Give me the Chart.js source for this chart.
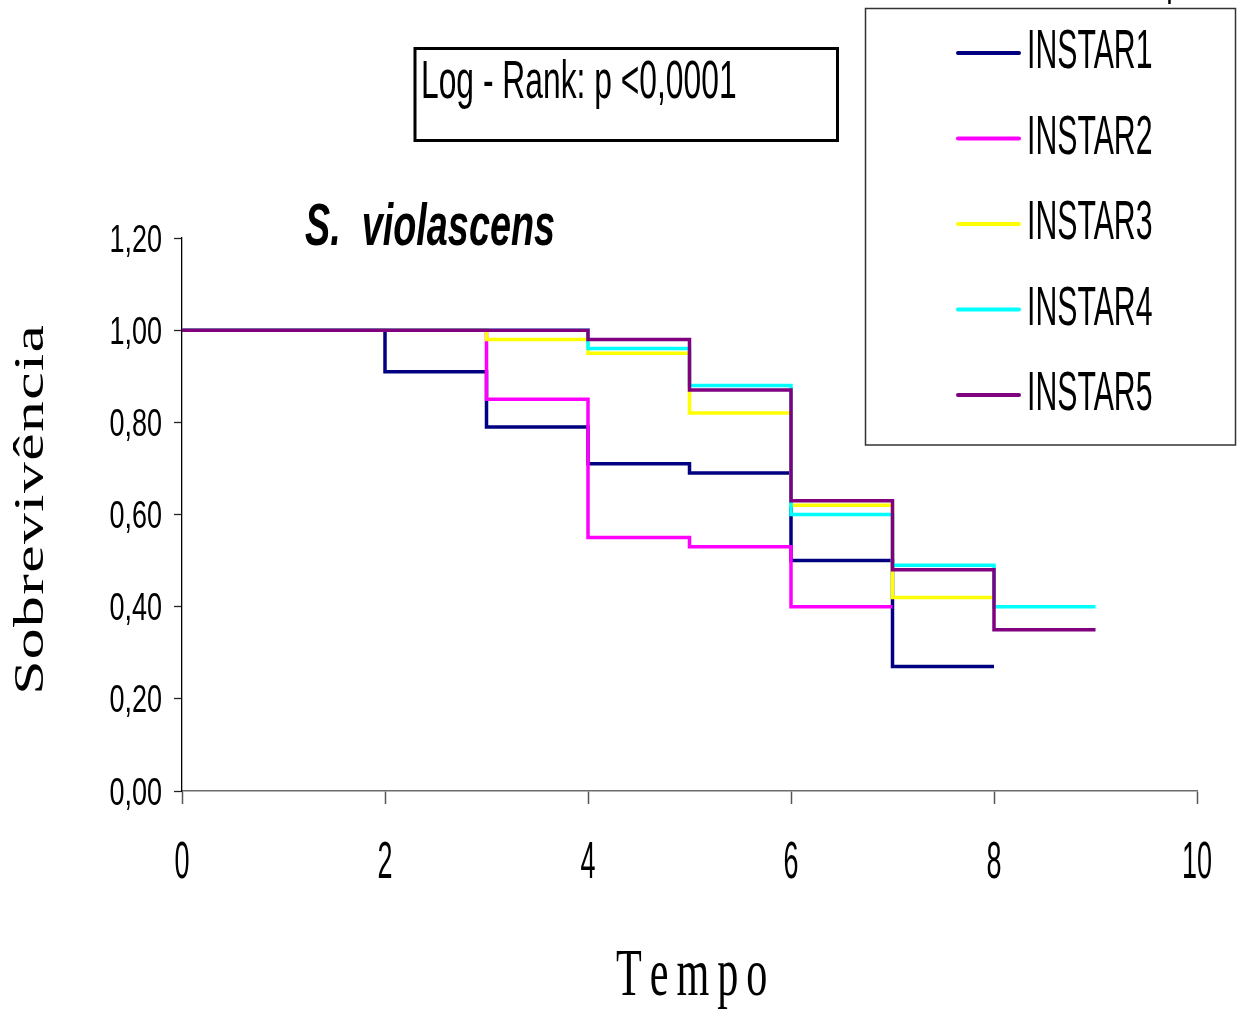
<!DOCTYPE html>
<html>
<head>
<meta charset="utf-8">
<script src="https://cdn.jsdelivr.net/npm/chart.js@4.4.1/dist/chart.umd.min.js"></script>
<style>
  html, body { margin: 0; padding: 0; background: #ffffff; }
  #wrap { width: 1240px; height: 1014px; }
</style>
</head>
<body>
<div id="wrap"><canvas id="c" width="1240" height="1014"></canvas></div>
<script>
// ---------------- DATA ----------------
const seriesNames = ['INSTAR1', 'INSTAR2', 'INSTAR3', 'INSTAR4', 'INSTAR5'];

const timesInstar1 = [0, 2, 3, 4, 5, 6, 7, 8];
const survInstar1  = [1.00, 0.91, 0.79, 0.71, 0.69, 0.50, 0.27, 0.27];

const timesInstar2 = [0, 3, 4, 5, 6, 7];
const survInstar2  = [1.00, 0.85, 0.55, 0.53, 0.40, 0.40];

const timesInstar3 = [0, 3, 4, 5, 6, 7, 8];
const survInstar3  = [1.00, 0.98, 0.95, 0.82, 0.62, 0.42, 0.42];

const timesInstar4 = [0, 4, 5, 6, 7, 8, 9];
const survInstar4  = [1.00, 0.96, 0.88, 0.60, 0.49, 0.40, 0.40];

const timesInstar5 = [0, 4, 5, 6, 7, 8, 9];
const survInstar5  = [1.00, 0.98, 0.87, 0.63, 0.48, 0.35, 0.35];

const xTickStep = 2;          // 0, 2, 4, 6, 8, 10
const yTickStep = 0.2;        // 0,00 ... 1,20
const xRange = [0, 10];
const yRange = [0, 1.2];

const titleText = 'S.  violascens';
const statText = 'Log - Rank: p <0,0001';
const xTitle = 'Tempo';
const yTitle = 'Sobrevivência';
const topFragment = ', p';

// ---------------- STYLES ----------------
const seriesColors = ['#000080', '#FF00FF', '#FFFF00', '#00FFFF', '#800080'];

const allTimes = [timesInstar1, timesInstar2, timesInstar3, timesInstar4, timesInstar5];
const allSurv  = [survInstar1, survInstar2, survInstar3, survInstar4, survInstar5];

const datasets = seriesNames.map((name, i) => ({
  label: name,
  data: allTimes[i].map((t, k) => ({ x: t, y: allSurv[i][k] })),
  borderColor: seriesColors[i],
  backgroundColor: seriesColors[i],
  borderWidth: 3.5,
  stepped: 'before',
  pointRadius: 0,
  pointHoverRadius: 0,
  fill: false,
  borderCapStyle: 'butt',
  borderJoinStyle: 'miter',
  order: seriesNames.length - i
}));

function fmtComma(v) {
  return v.toFixed(2).replace('.', ',');
}

// draw text with horizontal compression and optional letter spacing
function drawText(ctx, text, x, y, opt) {
  const sx = opt.sx || 1;
  const sp = opt.spacing || 0;
  ctx.save();
  ctx.font = opt.font;
  ctx.fillStyle = opt.color || '#000';
  ctx.textBaseline = 'alphabetic';
  ctx.textAlign = 'left';
  const chars = Array.from(text);
  let natural = 0;
  const widths = chars.map(c => ctx.measureText(c).width);
  if (sp) {
    natural = widths.reduce((a, b) => a + b, 0) * sx + sp * (chars.length - 1);
  } else {
    natural = ctx.measureText(text).width * sx;
  }
  ctx.translate(x, y);
  if (opt.rotate) ctx.rotate(opt.rotate);
  let left = 0;
  if (opt.align === 'center') left = -natural / 2;
  else if (opt.align === 'right') left = -natural;
  ctx.translate(left, 0);
  if (sp) {
    let pos = 0;
    chars.forEach((c, k) => {
      ctx.save();
      ctx.translate(pos, 0);
      ctx.scale(sx, 1);
      ctx.fillText(c, 0, 0);
      ctx.restore();
      pos += widths[k] * sx + sp;
    });
  } else {
    ctx.scale(sx, 1);
    ctx.fillText(text, 0, 0);
  }
  ctx.restore();
}

const decorPlugin = {
  id: 'decor',
  afterDraw(chart) {
    const ctx = chart.ctx;
    const xs = chart.scales.x;
    const ys = chart.scales.y;

    // Y tick labels
    ys.ticks.forEach(t => {
      const py = ys.getPixelForValue(t.value);
      drawText(ctx, fmtComma(t.value), xs.left - 20, py + 13.5,
        { font: '38px "Liberation Sans", Arial, sans-serif', sx: 0.71, align: 'right' });
    });
    // X tick labels
    xs.ticks.forEach(t => {
      const px = xs.getPixelForValue(t.value);
      drawText(ctx, String(t.value), px, 878,
        { font: '52px "Liberation Sans", Arial, sans-serif', sx: 0.52, align: 'center' });
    });

    // Axis titles
    drawText(ctx, xTitle, 616, 995,
      { font: '68px "Liberation Serif", "Times New Roman", serif', sx: 0.62, spacing: 8, align: 'left' });
    drawText(ctx, yTitle, 43, 510,
      { font: '43px "Liberation Serif", "Times New Roman", serif', sx: 1.43, spacing: 1.5, align: 'center', rotate: -Math.PI / 2 });

    // Species title
    drawText(ctx, titleText, 305, 245,
      { font: 'italic bold 60px "Liberation Sans", Arial, sans-serif', sx: 0.63, align: 'left' });

    // Log-rank box
    ctx.save();
    ctx.strokeStyle = '#000';
    ctx.lineWidth = 3;
    ctx.strokeRect(415, 48.5, 422.5, 92);
    ctx.restore();
    drawText(ctx, statText, 421, 98,
      { font: '53px "Liberation Sans", Arial, sans-serif', sx: 0.6, align: 'left' });

    // Legend box
    ctx.save();
    ctx.fillStyle = '#fff';
    ctx.fillRect(865.5, 8.5, 370, 436.5);
    ctx.strokeStyle = '#333';
    ctx.lineWidth = 1.5;
    ctx.strokeRect(865.5, 8.5, 370, 436.5);
    ctx.restore();
    chart.data.datasets.forEach((ds, i) => {
      const ly = 53 + i * 85.5;
      ctx.save();
      ctx.strokeStyle = ds.borderColor;
      ctx.lineWidth = 4;
      ctx.lineCap = 'round';
      ctx.beginPath();
      ctx.moveTo(958, ly);
      ctx.lineTo(1019, ly);
      ctx.stroke();
      ctx.restore();
      drawText(ctx, ds.label, 1027, ly + 15,
        { font: '56px "Liberation Sans", Arial, sans-serif', sx: 0.54, align: 'left' });
    });

    // Cut-off text fragment at the very top
    drawText(ctx, topFragment, 1150, -8,
      { font: '56px "Liberation Sans", Arial, sans-serif', sx: 0.52, align: 'left' });
  }
};

new Chart(document.getElementById('c'), {
  type: 'line',
  data: { datasets },
  options: {
    responsive: false,
    animation: false,
    devicePixelRatio: 1,
    events: [],
    layout: { padding: { left: 174, right: 43, top: 238, bottom: 210 } },
    plugins: {
      legend: { display: false },
      tooltip: { enabled: false },
      title: { display: false }
    },
    scales: {
      x: {
        type: 'linear',
        min: xRange[0],
        max: xRange[1],
        ticks: { display: false, stepSize: xTickStep },
        grid: { drawOnChartArea: false, drawTicks: true, tickLength: 13, tickColor: '#555', tickWidth: 1.5 },
        border: { display: true, color: '#6b6b6b', width: 1.5 },
        title: { display: false }
      },
      y: {
        type: 'linear',
        min: yRange[0],
        max: yRange[1],
        ticks: { display: false, stepSize: yTickStep },
        grid: { drawOnChartArea: false, drawTicks: true, tickLength: 8, tickColor: '#222', tickWidth: 1.3 },
        border: { display: true, color: '#000', width: 1.3 },
        title: { display: false }
      }
    }
  },
  plugins: [decorPlugin]
});
</script>
</body>
</html>
